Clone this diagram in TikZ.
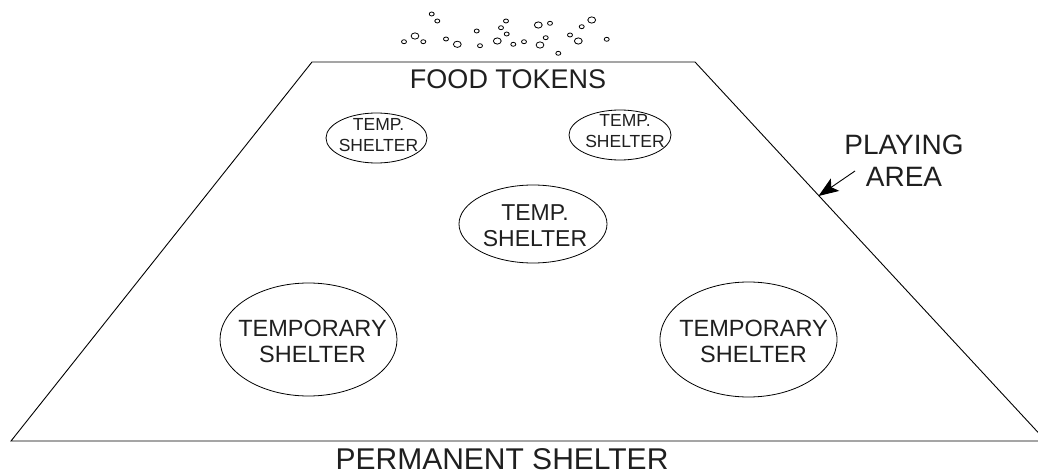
\documentclass[tikz,border=0pt]{standalone}
\usepackage{fontspec}
\setmainfont{Liberation Sans}
\usetikzlibrary{shapes.geometric,arrows.meta}
\begin{document}
\begin{tikzpicture}[x=1pt,y=-1pt,
  ln/.style={line width=0.9pt, black},
  shelter/.style={draw, ellipse, line width=0.8pt, inner sep=0pt},
  lbl/.style={inner sep=0pt, align=center, text=black!88},
  tok/.style={line width=0.8pt}]
\useasboundingbox (0,0) rectangle (1038,476);
% playing area
\coordinate (tl) at (312,62);
\coordinate (tr) at (695,62);
\coordinate (br) at (1046,441);
\coordinate (bl) at (11,441);
\draw[ln] (tl) -- (tr) -- (br) -- (bl) -- cycle;
% food tokens
\foreach \x/\y in {431.7/14, 437.3/21, 404/41.7, 423.3/41.7, 446/39, 476.7/31, 480/45.7,
  506/21, 501/27.7, 506.7/34, 513.3/44.3, 524/41.7, 550/23.3, 545.7/37.7, 558.3/53.3,
  570/35, 581.7/26.7, 606.7/39.3}
  \draw[tok] (\x,\y) ellipse [x radius=2.5pt, y radius=2pt];
\foreach \x/\y in {415/36, 457.3/44.3, 497.3/41, 538.3/25, 540/45, 578.3/41, 591.7/20}
  \draw[tok] (\x,\y) ellipse [x radius=3.9pt, y radius=3.1pt];
\node[lbl, font=\fontsize{27}{32}\selectfont] (food) at (508,79) {FOOD TOKENS};
% shelters
\node[shelter, minimum width=101pt, minimum height=50pt] (e1) at (376.5,138) {};
\node[lbl, font=\fontsize{17.5}{21}\selectfont] (t1) at (378.5,135.5) {TEMP.\\SHELTER};
\node[shelter, minimum width=102pt, minimum height=50pt] (e2) at (620,135) {};
\node[lbl, font=\fontsize{17.5}{21}\selectfont] (t2) at (625,131) {TEMP.\\SHELTER};
\node[shelter, minimum width=148pt, minimum height=78pt] (e3) at (533,224) {};
\node[lbl, font=\fontsize{23}{25.5}\selectfont] (t3) at (535,225.5) {TEMP.\\SHELTER};
\node[shelter, minimum width=177pt, minimum height=113pt] (e4) at (308.5,339.5) {};
\node[lbl, font=\fontsize{23.5}{26}\selectfont] (t4) at (312.5,341.5) {TEMPORARY\\SHELTER};
\node[shelter, minimum width=177pt, minimum height=115pt] (e5) at (748.5,339.5) {};
\node[lbl, font=\fontsize{23.5}{26}\selectfont] (t5) at (753.5,341.5) {TEMPORARY\\SHELTER};
% playing area label
\node[lbl, font=\fontsize{28}{32}\selectfont] (pa) at (904,161) {PLAYING\\AREA};
\coordinate (tail) at (855,171);
\coordinate (tip) at (818.5,196);
\draw[ln, -{Stealth[length=20pt,width=15pt,inset=4.5pt]}] (tail) -- (tip);
% permanent shelter
\node[lbl, font=\fontsize{30}{36}\selectfont] (perm) at (502,459) {PERMANENT SHELTER};
\end{tikzpicture}
\end{document}
